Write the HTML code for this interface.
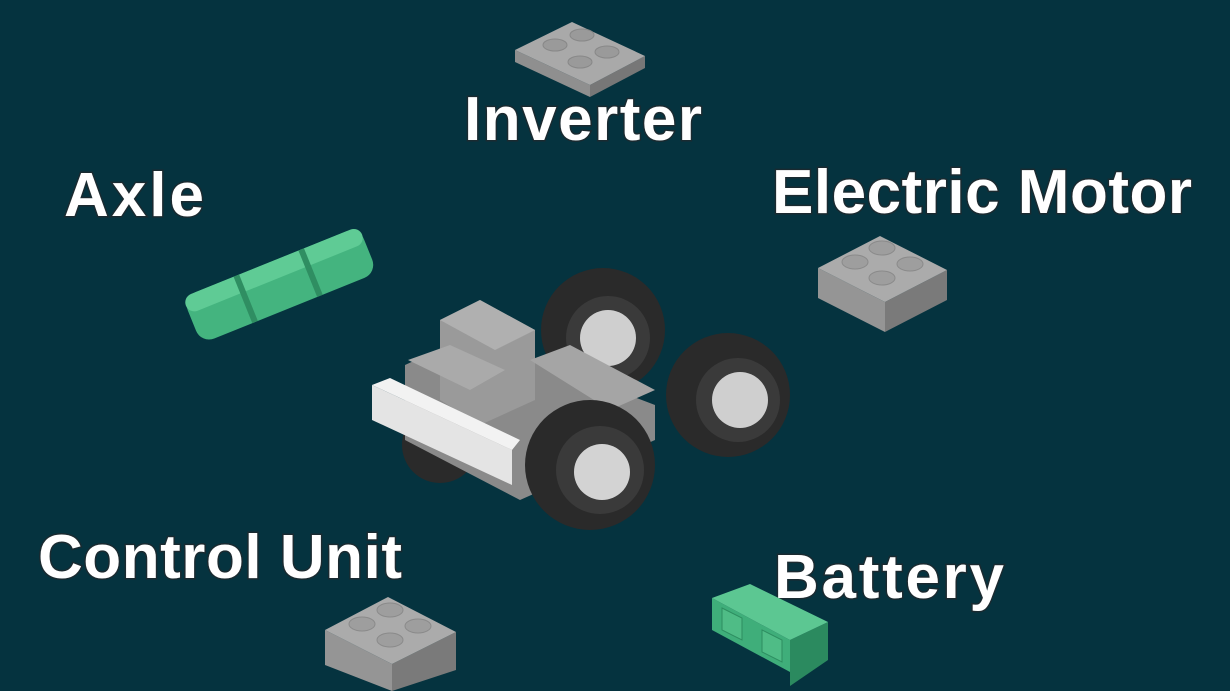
<!DOCTYPE html>
<html><head><meta charset="utf-8"><style>
html,body{margin:0;padding:0;background:#05333f;}
svg{display:block}
.t{font-family:"Liberation Sans",sans-serif;font-weight:bold;font-size:62px;fill:#fff;paint-order:stroke;stroke:#1a2a30;stroke-width:3px}
</style></head><body>
<svg width="1230" height="691" viewBox="0 0 1230 691">
<rect width="1230" height="691" fill="#05333f"/>
<!-- Inverter plate -->
<polygon points="515,62 590,97 590,85 515,50" fill="#8f8f8f"/>
<polygon points="590,97 645,68 645,56 590,85" fill="#777"/>
<polygon points="515,50 572,22 645,56 590,85" fill="#a9a9a9"/>
<g fill="#9a9a9a" stroke="#888"><ellipse cx="555" cy="45" rx="12" ry="6"/><ellipse cx="582" cy="35" rx="12" ry="6"/><ellipse cx="580" cy="62" rx="12" ry="6"/><ellipse cx="607" cy="52" rx="12" ry="6"/></g>
<text class="t" x="464" y="140" textLength="238" lengthAdjust="spacing">Inverter</text>
<text class="t" x="64" y="216" textLength="140" lengthAdjust="spacing">Axle</text>
<text class="t" x="772" y="213" textLength="420" lengthAdjust="spacing">Electric Motor</text>
<text class="t" x="38" y="578" textLength="364" lengthAdjust="spacing">Control Unit</text>
<text class="t" x="774" y="598" textLength="230" lengthAdjust="spacing">Battery</text>
<!-- Electric motor brick -->
<polygon points="818,268 885,302 885,332 818,298" fill="#959595"/>
<polygon points="885,302 947,270 947,300 885,332" fill="#7a7a7a"/>
<polygon points="818,268 880,236 947,270 885,302" fill="#ababab"/>
<g fill="#9e9e9e" stroke="#8a8a8a"><ellipse cx="855" cy="262" rx="13" ry="7"/><ellipse cx="882" cy="248" rx="13" ry="7"/><ellipse cx="882" cy="278" rx="13" ry="7"/><ellipse cx="910" cy="264" rx="13" ry="7"/></g>
<!-- Control unit brick -->
<polygon points="325,630 392,664 392,691 325,665" fill="#959595"/>
<polygon points="392,664 456,632 456,670 392,691" fill="#7a7a7a"/>
<polygon points="325,630 388,597 456,632 392,664" fill="#ababab"/>
<g fill="#9e9e9e" stroke="#8a8a8a"><ellipse cx="362" cy="624" rx="13" ry="7"/><ellipse cx="390" cy="610" rx="13" ry="7"/><ellipse cx="390" cy="640" rx="13" ry="7"/><ellipse cx="418" cy="626" rx="13" ry="7"/></g>
<!-- Battery -->
<polygon points="712,598 790,640 790,672 712,630" fill="#3fae7a"/>
<polygon points="790,640 828,622 828,660 790,686" fill="#2b8a5f"/>
<polygon points="712,598 750,584 828,622 790,640" fill="#5cc792"/>
<polygon points="722,608 742,618 742,640 722,630" fill="#4fbc86" stroke="#2d8d60"/>
<polygon points="762,630 782,640 782,662 762,652" fill="#4fbc86" stroke="#2d8d60"/>
<!-- Axle -->
<g transform="translate(280,285) rotate(-22)">
<rect x="-95" y="-25" width="190" height="50" rx="14" fill="#44b47f"/>
<rect x="-95" y="-25" width="190" height="18" rx="9" fill="#5fcb95"/>
<rect x="-40" y="-25" width="6" height="50" fill="#2f8e62"/>
<rect x="30" y="-25" width="6" height="50" fill="#2f8e62"/>
</g>
<!-- Car -->
<circle cx="440" cy="445" r="38" fill="#2a2a2a"/>
<circle cx="603" cy="330" r="62" fill="#2a2a2a"/>
<circle cx="608" cy="338" r="42" fill="#3a3a3a"/>
<circle cx="608" cy="338" r="28" fill="#cfcfcf"/>
<circle cx="728" cy="395" r="62" fill="#2a2a2a"/>
<circle cx="738" cy="400" r="42" fill="#3a3a3a"/>
<circle cx="740" cy="400" r="28" fill="#cfcfcf"/>
<polygon points="405,365 470,335 655,405 655,440 520,500 405,440" fill="#8a8a8a"/>
<polygon points="440,320 480,300 535,330 535,400 480,425 440,400" fill="#9a9a9a"/>
<polygon points="440,320 480,300 535,330 495,350" fill="#b0b0b0"/>
<polygon points="408,360 450,345 505,370 470,390" fill="#aaa"/>
<polygon points="530,360 570,345 655,390 610,410" fill="#a5a5a5"/>
<polygon points="372,385 512,450 512,485 372,420" fill="#e4e4e4"/>
<polygon points="372,385 390,378 520,440 512,450" fill="#f2f2f2"/>
<circle cx="590" cy="465" r="65" fill="#2a2a2a"/>
<circle cx="600" cy="470" r="44" fill="#3a3a3a"/>
<circle cx="602" cy="472" r="28" fill="#d3d3d3"/>
</svg>
</body></html>
